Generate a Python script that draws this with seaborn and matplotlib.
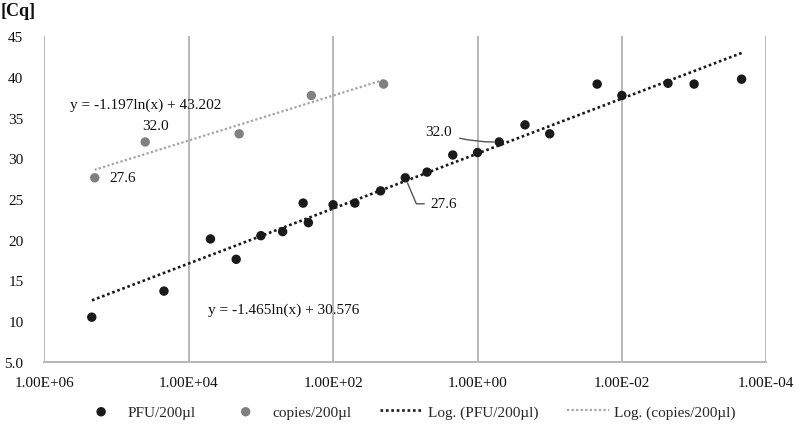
import numpy as np
import pandas as pd
import matplotlib
matplotlib.use("Agg")
import matplotlib.pyplot as plt
import seaborn as sns

# ---------------- data ----------------
pfu_x = [2.2e5, 2.2e4, 5.0e3, 2.2e3, 1.0e3, 5.0e2, 2.6e2, 2.2e2, 1.0e2, 5.0e1, 2.2e1,
         1.0e1, 5.0, 2.2, 1.0, 0.5, 0.22, 0.1, 0.022, 0.01, 0.0023, 0.001, 0.00022]
pfu_cq = [10.5, 13.7, 20.1, 17.6, 20.5, 21.0, 24.5, 22.1, 24.3, 24.5, 26.0,
          27.6, 28.3, 30.4, 30.7, 32.0, 34.1, 33.0, 39.1, 37.7, 39.2, 39.1, 39.7]
cop_x = [2.0e5, 4.0e4, 2.0e3, 2.0e2, 2.0e1]
cop_cq = [27.6, 32.0, 33.0, 37.7, 39.1]

# logarithmic trend coefficients (y = a*ln(x) + b) as printed on the chart
pfu_a, pfu_b = -1.465, 30.576
cop_a, cop_b = -1.197, 43.202

xticks = [1e6, 1e4, 1e2, 1e0, 1e-2, 1e-4]
xtick_labels = ["1.00E+06", "1.00E+04", "1.00E+02", "1.00E+00", "1.00E-02", "1.00E-04"]
yticks = [5, 10, 15, 20, 25, 30, 35, 40, 45]
ytick_labels = ["5.0", "10", "15", "20", "25", "30", "35", "40", "45"]

# ---------------- style ----------------
sns.set_theme(style="white")
plt.rcParams["font.family"] = ["Liberation Serif", "DejaVu Serif"]

BLACK = "#1a1a1a"
GREY = "#808080"
GREY_LINE = "#a3a3a3"
GRID = "#b8b8b8"
TXT = "#111111"
FS = 11

fig = plt.figure(figsize=(7.96, 4.27), dpi=100)
ax = fig.add_axes([44.3 / 796, 1 - 363 / 427, 722 / 796, 326 / 427])

pfu_df = pd.DataFrame({"x": pfu_x, "cq": pfu_cq})
cop_df = pd.DataFrame({"x": cop_x, "cq": cop_cq})

# trend lines
tx_p = np.geomspace(min(pfu_x), max(pfu_x), 200)
tx_c = np.geomspace(min(cop_x), max(cop_x), 200)
trend_p = pd.DataFrame({"x": tx_p, "cq": pfu_a * np.log(tx_p) + pfu_b})
trend_c = pd.DataFrame({"x": tx_c, "cq": cop_a * np.log(tx_c) + cop_b})

sns.lineplot(data=trend_p, x="x", y="cq", ax=ax, color=BLACK, lw=1.9,
             linestyle=(0, (1, 1.05)), label="Log. (PFU/200µl)", zorder=2)
sns.lineplot(data=trend_c, x="x", y="cq", ax=ax, color=GREY_LINE, lw=1.6,
             linestyle=(0, (1, 1.05)), label="Log. (copies/200µl)", zorder=2)

sns.scatterplot(data=pfu_df, x="x", y="cq", ax=ax, color=BLACK, s=46,
                edgecolor="none", label="PFU/200µl", zorder=3)
sns.scatterplot(data=cop_df, x="x", y="cq", ax=ax, color=GREY, s=46,
                edgecolor="none", label="copies/200µl", zorder=3)

ax.set_xscale("log")
ax.set_xlim(1e6, 1e-4)
ax.set_ylim(5, 45)
ax.set_xticks(xticks)
ax.set_xticklabels(xtick_labels)
ax.set_yticks(yticks)
ax.set_yticklabels(ytick_labels)
ax.xaxis.set_minor_locator(matplotlib.ticker.NullLocator())
ax.tick_params(axis="both", length=0, labelsize=FS, colors=TXT)
ax.tick_params(axis="x", pad=10)
ax.tick_params(axis="y", pad=15)
ax.set_xlabel("")
ax.set_ylabel("")

ax.grid(axis="x", color=GRID, lw=1.4)
ax.grid(axis="y", visible=False)
for s in ["top", "right", "left"]:
    ax.spines[s].set_visible(False)
ax.spines["bottom"].set_color(GRID)
ax.spines["bottom"].set_linewidth(1.4)

# annotations
tk = dict(fontsize=FS, color=TXT)
ax.annotate("27.6", xy=(cop_x[0], cop_cq[0]), xytext=(15, 0), textcoords="offset pixels",
            ha="left", va="center", **tk)
ax.annotate("32.0", xy=(cop_x[1], cop_cq[1]), xytext=(10, 16), textcoords="offset pixels",
            ha="center", va="center", **tk)
ax.annotate("27.6", xy=(pfu_x[11], pfu_cq[11]), xytext=(25, -26), textcoords="offset pixels",
            ha="left", va="center",
            arrowprops=dict(arrowstyle="-", color="#555555", lw=1.0, shrinkA=2, shrinkB=4,
                            connectionstyle="angle,angleA=0,angleB=113"), **tk)
ax.annotate("32.0", xy=(pfu_x[15], pfu_cq[15]), xytext=(-47, 10), textcoords="offset pixels",
            ha="right", va="center",
            arrowprops=dict(arrowstyle="-", color="#555555", lw=1.0, shrinkA=3, shrinkB=4,
                            connectionstyle="arc3,rad=0.1"), **tk)

ax.text(0.036, 0.791, "y = -1.197ln(x) + 43.202", transform=ax.transAxes,
        ha="left", va="center", **tk)
ax.text(0.227, 0.163, "y = -1.465ln(x) + 30.576", transform=ax.transAxes,
        ha="left", va="center", **tk)

fig.text(1 / 796, 1 - 12 / 427, "[Cq]", ha="left", va="center", fontsize=13,
         fontweight="bold", color=TXT)

# legend
handles, labels = ax.get_legend_handles_labels()
order = ["PFU/200µl", "copies/200µl", "Log. (PFU/200µl)", "Log. (copies/200µl)"]
hmap = dict(zip(labels, handles))
ax.get_legend().remove()
fig.legend([hmap[k] for k in order], order, loc="center",
           bbox_to_anchor=(0.5 + 10 / 796, 1 - 413 / 427),
           ncol=4, frameon=False, fontsize=FS, handlelength=2.75, columnspacing=1.9,
           handletextpad=0.35)

fig.savefig("out.png", dpi=100)
